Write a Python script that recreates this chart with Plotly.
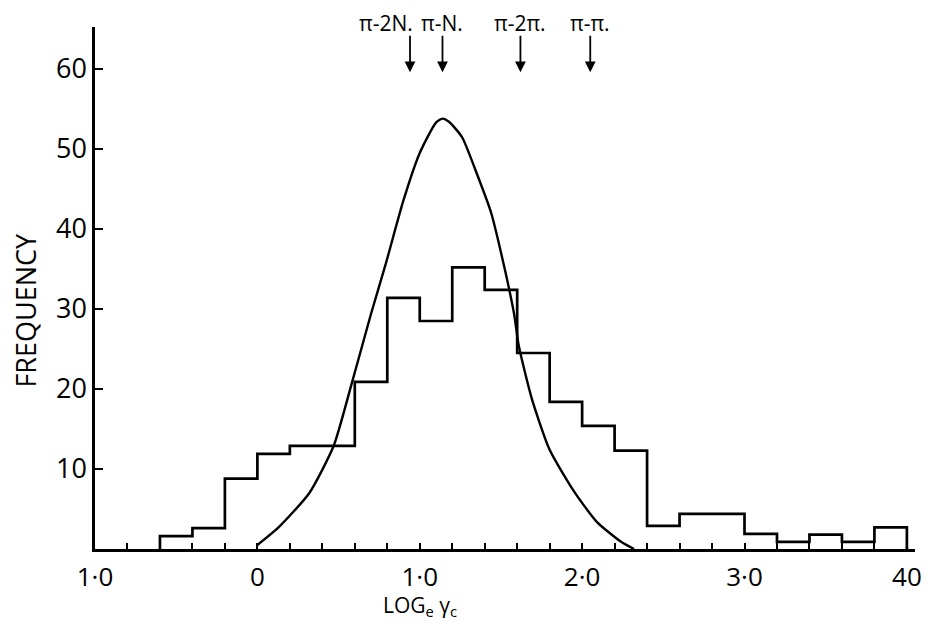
import plotly.graph_objects as go

# histogram bins (log_e gamma_c), width 0.2
bin_lo = [-0.6, -0.4, -0.2, 0.0, 0.2, 0.4, 0.6, 0.8, 1.0, 1.2, 1.4, 1.6, 1.8,
          2.0, 2.2, 2.4, 2.6, 2.8, 3.0, 3.2, 3.4, 3.6, 3.8]
freq = [1.6, 2.6, 8.8, 11.9, 12.9, 12.9, 20.9, 31.4, 28.5, 35.2, 32.4, 24.5, 18.4,
        15.4, 12.3, 2.9, 4.4, 4.4, 1.9, 0.9, 1.8, 0.9, 2.7]

# fitted curve
curve_x = [0.0, 0.13, 0.32, 0.47, 0.58, 0.70, 0.79, 0.90, 1.00, 1.10, 1.14, 1.18,
           1.26, 1.35, 1.44, 1.52, 1.58, 1.61, 1.69, 1.80, 1.95, 2.09, 2.24, 2.32]
curve_y = [0.5, 2.7, 7.0, 12.9, 20.6, 29.4, 35.6, 43.6, 49.5, 53.3, 53.8, 53.4,
           51.5, 47.0, 42.0, 35.3, 29.5, 25.4, 18.8, 12.4, 7.2, 3.4, 0.9, 0.0]

# channel markers at the top
marker_x = [0.94, 1.14, 1.62, 2.05]
marker_text = ["π-2N.", "π-N.", "π-2π.", "π-π."]
marker_anchor = ["right", "center", "center", "center"]

x_tickvals = [-1, 0, 1, 2, 3, 4]
x_ticktext = ["1·0", "0", "1·0", "2·0", "3·0", "40"]
y_tickvals = [10, 20, 30, 40, 50, 60]
y_ticktext = ["10", "20", "30", "40", "50", "60"]

bin_width = 0.2
step_x = [bin_lo[0]] + [b + bin_width for b in bin_lo] + [bin_lo[-1] + bin_width]
step_y = [0] + freq + [0]

FONT = "Open Sans"
TOP = 19
BOTTOM = 73

fig = go.Figure()
fig.add_trace(go.Scatter(x=step_x, y=step_y, mode="lines", line_shape="vh",
                         line=dict(color="black", width=2.7), showlegend=False))
fig.add_trace(go.Scatter(x=curve_x, y=curve_y, mode="lines", line_shape="spline",
                         line=dict(color="black", width=2.4, smoothing=0.6),
                         showlegend=False))

for mx, mt, anc in zip(marker_x, marker_text, marker_anchor):
  fig.add_annotation(x=mx, y=59.6, xref="x", yref="y", text="", showarrow=True,
                     ax=0, ay=-38, arrowhead=2, arrowsize=1.2, arrowwidth=1.8,
                     arrowcolor="black")
  fig.add_annotation(x=mx, y=1.0, xref="x", yref="paper", text=mt, showarrow=False,
                     xanchor=anc, yanchor="top", yshift=TOP, borderpad=0,
                     xshift=4 if anc == "right" else 0,
                     font=dict(family=FONT, size=21, color="black"))

fig.add_annotation(x=1.0, y=0, xref="x", yref="paper", showarrow=False,
                   text="LOG<sub>e</sub> γ<sub>c</sub>", xanchor="center", yanchor="bottom",
                   yshift=-BOTTOM, borderpad=0,
                   font=dict(family=FONT, size=21, color="black"))
fig.add_annotation(x=0, y=29.8, xref="paper", yref="y", showarrow=False,
                   text="FREQUENCY", textangle=-90, xanchor="center", yanchor="middle",
                   xshift=-69, font=dict(family=FONT, size=27, color="black"))

# page body has an 8px margin, so the figure is a bit smaller than the window
fig.update_layout(
  width=930, height=614,
  margin=dict(l=87, r=23, t=TOP, b=BOTTOM, autoexpand=False),
  paper_bgcolor="white", plot_bgcolor="white",
  showlegend=False,
)
fig.update_xaxes(range=[-1.0, 4.05], showgrid=False, zeroline=False, automargin=False,
                 showline=True, linecolor="black", linewidth=2.5,
                 tickvals=x_tickvals, ticktext=x_ticktext,
                 ticks="inside", ticklen=6, tickwidth=2, tickcolor="black",
                 ticklabelstandoff=3,
                 minor=dict(dtick=0.2, tick0=-1, ticks="inside", ticklen=6,
                            tickwidth=2, tickcolor="black", showgrid=False),
                 tickfont=dict(family=FONT, size=26, color="black"))
fig.update_yaxes(range=[0, 65.25], showgrid=False, zeroline=False, automargin=False,
                 showline=True, linecolor="black", linewidth=2.5,
                 tickvals=y_tickvals, ticktext=y_ticktext,
                 ticks="inside", ticklen=8, tickwidth=2, tickcolor="black",
                 tickfont=dict(family=FONT, size=27, color="black"))

fig.write_html("out.html")
